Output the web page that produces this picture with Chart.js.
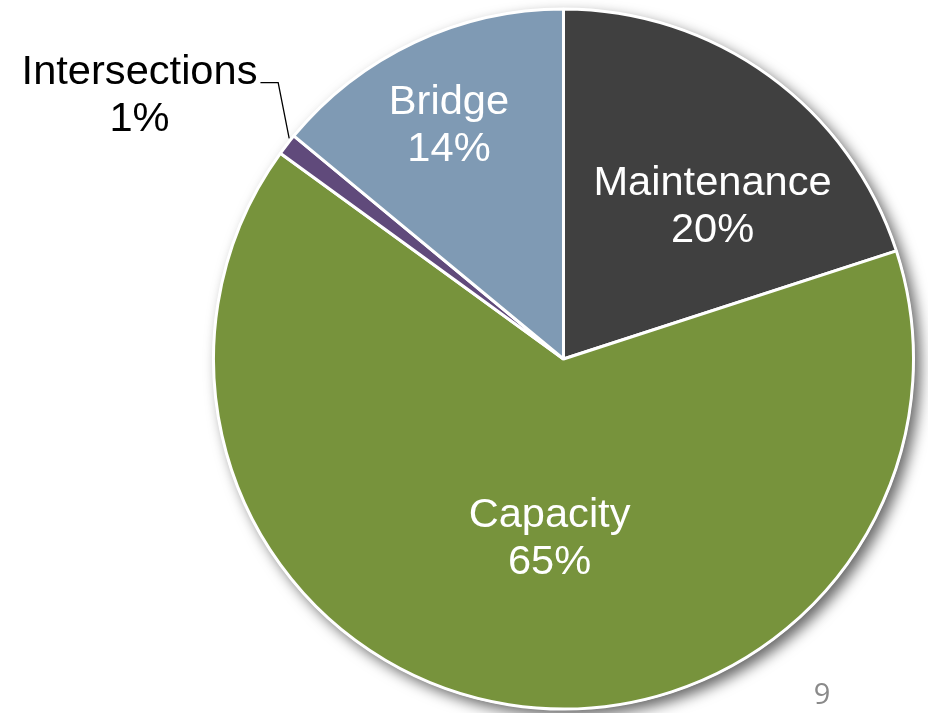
<!DOCTYPE html>
<html>
<head>
<meta charset="utf-8">
<script src="https://cdn.jsdelivr.net/npm/chart.js@4/dist/chart.umd.min.js"></script>
<style>
  html, body { margin: 0; padding: 0; background: #ffffff; }
  #wrap { width: 928px; height: 713px; position: relative; }
</style>
</head>
<body>
<div id="wrap"><canvas id="c" width="928" height="713"></canvas></div>
<script>
// ---- data ----
const categories = ["Maintenance", "Capacity", "Intersections", "Bridge"];
const shares = [20, 65, 1, 14];
const sliceColors = ["#404040", "#77933C", "#604A7B", "#7F9AB4"];
const pageNumber = "9";

// ---- label styling (angle offset in degrees, radius factor) ----
const labelStyle = [
  { dAng: 8,    rf: 0.613, color: "#ffffff", outside: false },
  { dAng: -4.5, rf: 0.508, color: "#ffffff", outside: false },
  { dAng: -5.7, rf: 1.43,  color: "#000000", outside: true },
  { dAng: -0.7, rf: 0.749, color: "#ffffff", outside: false }
];
const FONT = '40px "Liberation Sans", Arial, sans-serif';
const STRETCH = 1.04;
const LINE_H = 47;

const shadowPlugin = {
  id: 'pieShadow',
  beforeDatasetsDraw(chart) {
    const arc = chart.getDatasetMeta(0).data[0];
    if (!arc) return;
    const ctx = chart.ctx;
    ctx.save();
    ctx.shadowColor = 'rgba(0,0,0,0.6)';
    ctx.shadowBlur = 14;
    ctx.shadowOffsetX = 6;
    ctx.shadowOffsetY = 6;
    ctx.fillStyle = '#ffffff';
    ctx.beginPath();
    ctx.arc(arc.x, arc.y, arc.outerRadius + 1, 0, Math.PI * 2);
    ctx.fill();
    ctx.restore();
  }
};

function stretchedText(ctx, txt, x, y) {
  ctx.save();
  ctx.translate(x, y);
  ctx.scale(STRETCH, 1);
  ctx.fillText(txt, 0, 0);
  ctx.restore();
}

const labelPlugin = {
  id: 'pieLabels',
  afterDatasetsDraw(chart) {
    const ctx = chart.ctx;
    const meta = chart.getDatasetMeta(0);
    ctx.save();
    ctx.font = FONT;
    ctx.textAlign = 'center';
    ctx.textBaseline = 'alphabetic';
    meta.data.forEach((arc, i) => {
      const st = labelStyle[i];
      const mid = (arc.startAngle + arc.endAngle) / 2;
      const a = mid + st.dAng * Math.PI / 180;
      const r = arc.outerRadius * st.rf;
      const cx = arc.x + Math.cos(a) * r;
      const cy = arc.y + Math.sin(a) * r;
      const b1 = cy - LINE_H / 2 + 14;
      const b2 = b1 + LINE_H;
      ctx.fillStyle = st.color;
      stretchedText(ctx, categories[i], cx, b1);
      stretchedText(ctx, shares[i] + '%', cx, b2);
      if (st.outside) {
        const w = ctx.measureText(categories[i]).width * STRETCH;
        const ea = mid + 1 * Math.PI / 180;
        const ex = arc.x + Math.cos(ea) * (arc.outerRadius + 2);
        const ey = arc.y + Math.sin(ea) * (arc.outerRadius + 2);
        const ly = b1 - 1;
        ctx.strokeStyle = '#000000';
        ctx.lineWidth = 1.3;
        ctx.beginPath();
        ctx.moveTo(cx + w / 2 + 3, ly);
        ctx.lineTo(ex - 11, ly);
        ctx.lineTo(ex, ey);
        ctx.stroke();
      }
    });
    // page number
    ctx.font = '29px "Open Sans", sans-serif';
    ctx.fillStyle = '#8a8a8a';
    ctx.fillText(pageNumber, 822, 704);
    ctx.restore();
  }
};

new Chart(document.getElementById('c'), {
  type: 'pie',
  data: {
    labels: categories,
    datasets: [{
      data: shares,
      backgroundColor: sliceColors,
      borderColor: '#ffffff',
      borderWidth: 3,
      radius: 350
    }]
  },
  options: {
    responsive: false,
    animation: false,
    layout: { padding: { left: 209, right: 10, top: 5, bottom: 0 } },
    plugins: {
      legend: { display: false },
      tooltip: { enabled: false }
    }
  },
  plugins: [shadowPlugin, labelPlugin]
});
</script>
</body>
</html>
